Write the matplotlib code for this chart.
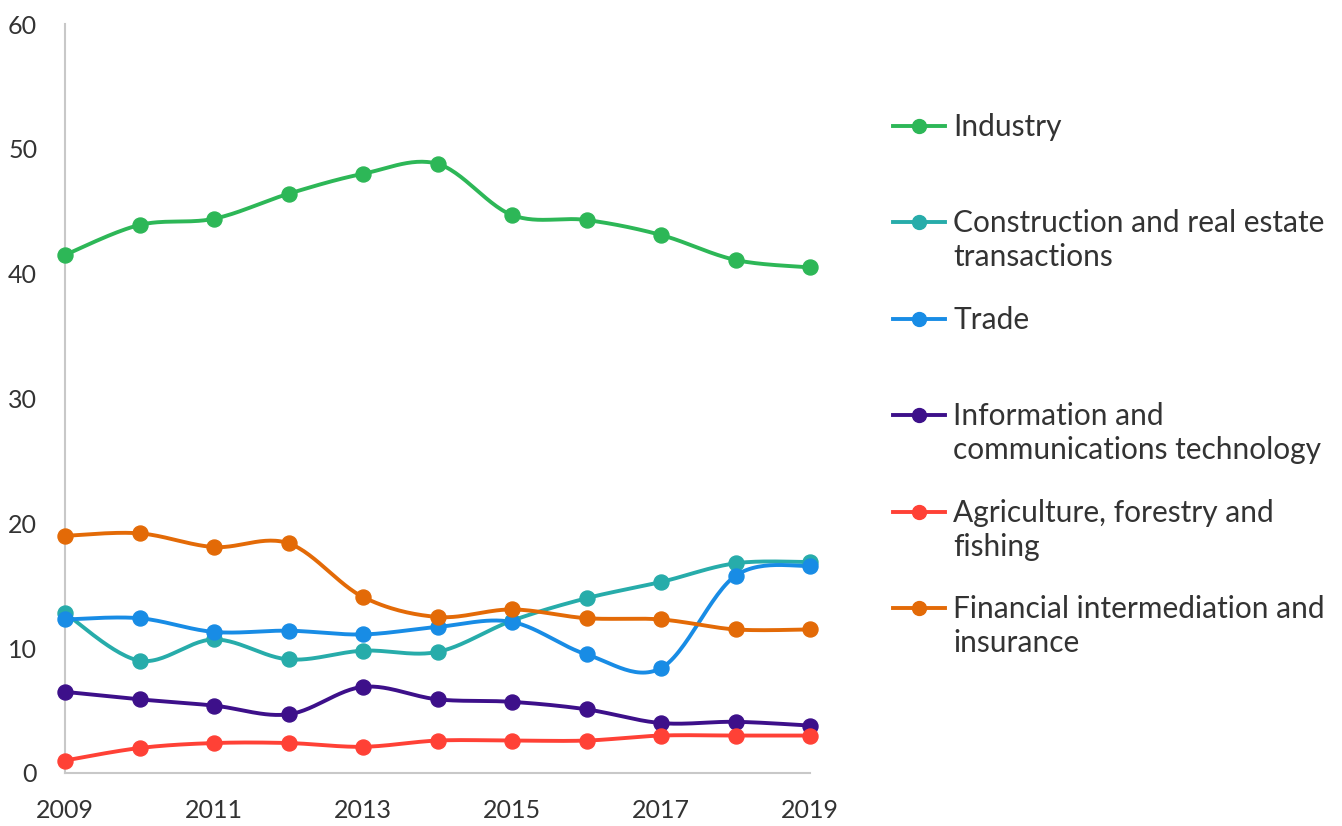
import numpy as np
import matplotlib
matplotlib.use("Agg")
import matplotlib.pyplot as plt
from matplotlib.lines import Line2D

plt.rcParams['font.family'] = ['Lato', 'DejaVu Sans']

years = [2009, 2010, 2011, 2012, 2013, 2014, 2015, 2016, 2017, 2018, 2019]
industry = [41.5, 43.9, 44.4, 46.4, 48.0, 48.8, 44.7, 44.3, 43.1, 41.1, 40.5]
construction = [12.8, 9.0, 10.7, 9.1, 9.8, 9.7, 12.2, 14.0, 15.3, 16.8, 16.9]
trade = [12.3, 12.4, 11.3, 11.4, 11.1, 11.7, 12.1, 9.5, 8.4, 15.8, 16.6]
ict = [6.5, 5.9, 5.4, 4.7, 6.9, 5.9, 5.7, 5.1, 4.0, 4.1, 3.8]
agri = [1.0, 2.0, 2.4, 2.4, 2.1, 2.6, 2.6, 2.6, 3.0, 3.0, 3.0]
financial = [19.0, 19.2, 18.1, 18.4, 14.1, 12.5, 13.1, 12.4, 12.3, 11.5, 11.5]

labels = ["Industry", "Construction and real estate\ntransactions", "Trade",
          "Information and\ncommunications technology",
          "Agriculture, forestry and\nfishing", "Financial intermediation and\ninsurance"]
series = [industry, construction, trade, ict, agri, financial]
colors = ["#2DB757", "#27ACAA", "#188CE5", "#3D108A", "#FF4136", "#E36A07"]

xticks = [2009, 2011, 2013, 2015, 2017, 2019]
yticks = [0, 10, 20, 30, 40, 50, 60]


def smooth(x, y, n=30):
    x = np.asarray(x, float)
    y = np.asarray(y, float)
    px = np.concatenate([[x[0]], x, [x[-1]]])
    py = np.concatenate([[y[0]], y, [y[-1]]])
    xs, ys = [], []
    t = np.linspace(0, 1, n)
    for i in range(1, len(px) - 2):
        p0 = np.array([px[i], py[i]])
        p3 = np.array([px[i + 1], py[i + 1]])
        c1 = p0 + (np.array([px[i + 1], py[i + 1]]) - np.array([px[i - 1], py[i - 1]])) / 6
        c2 = p3 - (np.array([px[i + 2], py[i + 2]]) - np.array([px[i], py[i]])) / 6
        b = ((1 - t) ** 3)[:, None] * p0 + (3 * (1 - t) ** 2 * t)[:, None] * c1 + \
            (3 * (1 - t) * t ** 2)[:, None] * c2 + (t ** 3)[:, None] * p3
        xs.extend(b[:, 0])
        ys.extend(b[:, 1])
    return np.array(xs), np.array(ys)


fig = plt.figure(figsize=(13.42, 8.26), dpi=100)
ax = fig.add_axes([65 / 1342, 1 - 773 / 826, (810 - 65) / 1342, (773 - 24) / 826])

for vals, col in zip(series, colors):
    sx, sy = smooth(years, vals)
    ax.plot(sx, sy, color=col, lw=2.8, clip_on=False, solid_capstyle='round')
    ax.plot(years, vals, 'o', color=col, ms=10.8, clip_on=False, zorder=3)

ax.set_xlim(2009, 2019)
ax.set_ylim(0, 60)
ax.set_xticks(xticks)
ax.set_yticks(yticks)
ax.tick_params(length=0, labelsize=18, colors='#333333')
ax.tick_params(axis='x', pad=19)
ax.tick_params(axis='y', pad=20)
for s in ['top', 'right']:
    ax.spines[s].set_visible(False)
for s in ['left', 'bottom']:
    ax.spines[s].set_color('#C8C8C8')
    ax.spines[s].set_linewidth(1.5)

# legend (manual)
W, H = 1342, 826
ys_leg = [126, 222, 319, 415, 512, 608]
for lab, col, yl in zip(labels, colors, ys_leg):
    yf = 1 - yl / H
    fig.add_artist(Line2D([893 / W, 945 / W], [yf, yf], color=col, lw=2.8,
                          transform=fig.transFigure))
    fig.add_artist(Line2D([919 / W], [yf], marker='o', color=col, ms=10,
                          transform=fig.transFigure))
    for k, line in enumerate(lab.split("\n")):
        fig.text(953 / W, 1 - (yl + 10 + 34 * k) / H, line, va='baseline',
                 ha='left', fontsize=21.5, color='#333333')

fig.savefig("out.png", dpi=100)
